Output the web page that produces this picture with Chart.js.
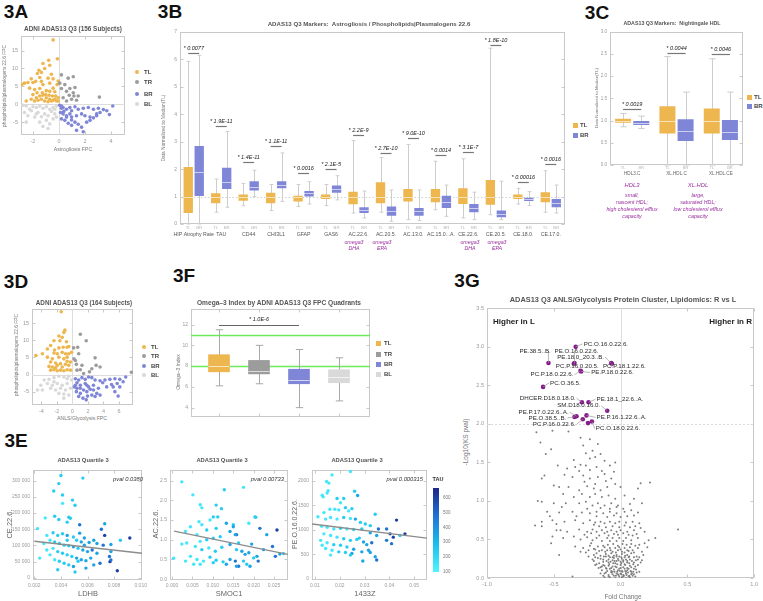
<!DOCTYPE html>
<html>
<head>
<meta charset="utf-8">
<script src="https://cdn.jsdelivr.net/npm/chart.js@4.4.1/dist/chart.umd.min.js"></script>
<style>
  body { margin: 0; background: #fff; width: 763px; height: 601px; overflow: hidden; position: relative;
         font-family: "Liberation Sans", Arial, sans-serif; }
  canvas { position: absolute; }
  .t { position: absolute; white-space: pre; line-height: 1; }
  .m { position: absolute; }
</style>
</head>
<body>
<script>
// ---------- data ----------
// 3A: astrogliosis FPC vs phospholipid FPC, by quadrant
const astroTL = [[-0.45,18.0],[-0.12,12.7],[-1.23,11.4],[-0.79,12.3],[-0.71,10.9],[-1.54,9.5],[-1.10,10.0],[-0.58,8.4],[-2.0,6.1],[-2.65,5.9],[-2.83,5.6],[-2.39,6.1],[-1.79,6.4],[-1.35,6.4],[-1.23,5.5],[-0.71,5.9],[-0.45,4.5],[-0.06,6.5],[-0.14,5.5],[-2.26,4.5],[-1.87,4.1],[-1.48,4.4],[-0.97,3.8],[-0.71,3.6],[-0.32,3.5],[-2.52,0.9],[-2.13,1.4],[-1.74,1.8],[-1.48,2.3],[-1.23,2.5],[-0.97,1.8],[-0.71,1.4],[-0.45,1.1],[-0.19,0.9],[-1.87,0.9],[-1.61,1.1],[-1.35,1.4],[-1.10,0.9],[-0.84,0.7],[-0.58,0.9],[-0.32,1.4],[-0.06,1.8],[-2.0,2.7],[-1.69,3.2],[-1.28,3.2],[-1.02,2.7],[-0.76,2.5],[-0.50,2.3],[-0.25,2.3],[-0.05,0.9],[-0.84,7.3],[-0.45,7.1],[-2.13,7.1],[-1.48,7.5],[-1.66,8.6],[-1.35,8.9]];
const astroTR = [[0.19,8.2],[0.71,7.3],[1.10,7.7],[0.06,5.9],[0.45,5.5],[0.19,4.4],[0.58,3.6],[0.79,2.5],[1.15,2.3],[0.97,1.4],[1.35,1.1],[1.10,3.2],[1.48,2.3],[0.32,1.8],[0.58,0.9],[3.11,2.0],[0.84,4.4],[1.23,4.7]];
const astroBR = [[0.05,-0.3],[0.19,-0.5],[0.32,-0.9],[0.58,-1.4],[0.84,-0.9],[0.97,-1.8],[1.23,-0.7],[1.48,-1.4],[1.87,-1.1],[2.26,-0.9],[2.65,-1.4],[3.03,-1.1],[3.42,-1.5],[3.68,-1.8],[4.14,-0.5],[3.88,-2.9],[3.16,-2.3],[2.90,-2.7],[2.39,-3.6],[2.65,-3.8],[2.0,-3.2],[1.74,-2.7],[1.35,-3.2],[0.97,-3.6],[0.58,-3.2],[0.32,-2.7],[0.12,-2.3],[0.19,-4.1],[0.45,-4.5],[0.71,-5.3],[0.97,-5.9],[1.23,-5.0],[1.48,-5.6],[1.74,-6.4],[1.35,-7.3],[1.87,-7.7],[2.13,-5.0],[2.39,-4.5],[2.90,-3.2],[0.58,-3.6],[0.97,-4.4],[0.19,-1.1],[0.37,-2.0],[0.84,-2.7]];
const astroBL = [[-2.77,-0.3],[-2.52,-0.5],[-2.26,-1.4],[-2.0,-0.7],[-1.74,-0.9],[-1.48,-0.5],[-1.23,-1.1],[-0.97,-0.7],[-0.71,-1.4],[-0.45,-0.9],[-0.19,-0.5],[-2.65,-2.3],[-2.13,-1.8],[-1.61,-2.3],[-1.10,-2.7],[-0.58,-2.0],[-0.32,-2.7],[-2.39,-3.2],[-1.87,-3.6],[-1.35,-3.5],[-0.84,-3.2],[-0.45,-4.1],[-1.48,-5.0],[-0.97,-4.5],[-2.52,-5.0],[-0.71,-5.5],[-0.84,-6.8],[-1.23,-6.2],[-0.19,-3.6],[-1.74,-2.7],[-0.32,-1.4]];
const astroXTicks = [-2, 0, 2, 4];
const fpcYTicks = [-5, 0, 5, 10, 15];

// 3D: ANLS/glycolysis FPC vs phospholipid FPC
const anlsTL = [[-1.44,18.4],[-0.97,13.0],[-1.10,12.3],[-1.74,11.3],[-1.31,10.9],[-2.37,9.9],[-1.61,9.9],[-0.76,9.6],[-2.80,8.5],[-3.22,7.5],[-2.29,7.2],[-1.74,7.8],[-1.19,8.0],[-0.68,8.0],[-0.47,8.2],[-4.70,5.6],[-3.86,6.1],[-2.37,6.3],[-1.95,6.1],[-0.89,6.1],[-0.47,6.1],[-3.22,5.1],[-2.58,4.6],[-1.74,5.1],[-1.10,4.6],[-0.68,3.9],[-0.25,3.7],[-2.80,3.7],[-2.16,3.4],[-1.53,3.2],[-0.89,3.0],[-0.47,2.7],[-2.80,1.3],[-2.37,1.4],[-1.95,1.1],[-1.53,1.3],[-1.10,1.1],[-0.68,1.4],[-0.25,1.3],[-2.58,2.2],[-1.31,2.2],[-2.16,2.0],[-1.95,2.7],[-3.01,2.4],[-0.68,5.1],[-1.31,6.5],[-0.10,6.5]];
const anlsTR = [[1.02,11.8],[1.78,9.9],[0.68,8.0],[0.15,7.8],[0.81,6.1],[0.20,4.6],[0.38,4.1],[1.23,2.7],[0.59,1.3],[2.92,4.9],[3.05,2.7],[2.50,1.7],[3.56,2.2],[2.20,0.8],[1.44,0.3],[1.02,1.4],[7.58,0.7],[0.51,3.0]];
const anlsBR = [[0.38,-1.2],[0.81,-1.6],[1.23,-0.9],[1.65,-1.4],[2.08,-0.7],[2.50,-0.9],[2.92,-1.6],[3.56,-1.8],[4.19,-1.6],[4.83,-1.4],[5.47,-1.2],[6.10,-1.4],[6.86,-0.7],[6.53,-2.1],[5.76,-2.6],[5.04,-2.9],[4.41,-3.6],[3.90,-2.4],[3.35,-4.0],[2.71,-3.1],[2.08,-3.6],[1.65,-2.6],[1.02,-3.1],[0.59,-2.4],[0.25,-3.6],[0.51,-5.0],[1.02,-5.5],[1.44,-4.5],[1.86,-5.0],[2.29,-4.3],[2.71,-4.5],[3.14,-5.5],[3.56,-6.0],[5.47,-5.0],[5.89,-6.3],[0.81,-6.4],[1.36,-6.9],[1.78,-7.4],[1.95,-6.3],[2.50,-6.0],[2.92,-6.4],[0.38,-3.1],[1.02,-4.0],[1.86,-3.1],[0.59,-4.0],[6.10,-3.6],[5.25,-3.6]];
const anlsBL = [[-3.64,-1.6],[-3.01,-1.4],[-2.37,-0.9],[-1.74,-0.5],[-1.10,-0.7],[-0.47,-0.5],[-4.07,-3.1],[-3.22,-2.6],[-2.58,-3.1],[-1.95,-2.6],[-1.31,-3.1],[-0.68,-2.6],[-0.10,-1.6],[-2.80,-4.0],[-2.16,-4.5],[-1.53,-4.0],[-0.89,-4.5],[-0.25,-4.0],[-3.86,-4.5],[-1.74,-5.5],[-1.10,-5.7],[-0.47,-6.0],[-1.10,-6.9],[-4.49,-4.5],[-2.37,-2.1],[-0.68,-1.2]];
const anlsXTicks = [-4, -2, 0, 2, 4, 6];

// 3B: box stats [whisker low, q1, median, q3, whisker high], normalised to TL median
const markerNames = ['HIP Atrophy Rate','TAU','CD44','CHI3L1','GFAP','GAS6','AC.22.6.','AC.20.5.','AC.13.0.','AC.15.0...A.','CE.22.6.','CE.20.5.','CE.18.0.','CE.17.0.'];
const markerTL = [[0.0,0.4,1.0,2.08,5.93],[0.43,0.76,0.97,1.12,1.64],[0.67,0.85,1.0,1.08,1.48],[0.49,0.76,1.0,1.14,1.44],[0.64,0.82,0.97,1.03,1.44],[0.67,0.91,1.0,1.08,1.44],[0.4,0.72,0.97,1.18,3.04],[0.43,0.76,1.0,1.52,2.42],[0.16,0.82,1.0,1.28,2.9],[0.52,0.79,1.0,1.28,2.29],[0.22,0.73,1.0,1.3,2.38],[0.34,0.7,1.0,1.6,6.41],[0.73,0.91,1.0,1.08,1.3],[0.43,0.79,1.0,1.16,1.94]];
const markerBR = [[0.0,1.02,1.9,2.84,6.15],[0.61,1.28,1.54,2.05,3.37],[1.0,1.22,1.34,1.56,1.96],[0.82,1.3,1.42,1.56,2.59],[0.73,1.0,1.12,1.2,1.54],[0.88,1.14,1.26,1.4,1.76],[0.22,0.4,0.52,0.61,1.2],[0.1,0.3,0.46,0.64,1.24],[0.13,0.3,0.46,0.58,1.24],[0.28,0.58,0.79,1.03,1.42],[0.16,0.43,0.58,0.73,1.16],[0.16,0.25,0.37,0.49,1.56],[0.67,0.84,0.9,0.96,1.18],[0.4,0.61,0.76,0.91,1.42]];
const markerSigY = [6.23,3.59,2.26,2.86,1.87,1.99,3.25,2.59,3.13,2.5,2.62,6.53,1.54,2.2];
const markerP = ['0.0077','1.9E-11','1.4E-11','1.1E-11','0.0016','2.1E-5','2.2E-9','2.7E-10','9.0E-10','0.0014','3.1E-7','1.8E-10','0.00016','0.0016'];
const markerYTicks = [0, 1, 2, 3, 4, 5, 6, 7];

// 3C: Nightingale HDL
const hdlNames = ['HDL3.C','XL.HDL.C','XL.HDL.CE'];
const hdlTL = [[0.86,0.95,0.99,1.04,1.16],[0.0,0.71,0.99,1.32,2.44],[0.0,0.71,0.99,1.27,2.39]];
const hdlBR = [[0.82,0.9,0.95,0.99,1.1],[0.0,0.54,0.76,1.03,1.64],[0.0,0.56,0.75,1.01,1.64]];
const hdlSigY = [1.27, 2.52, 2.5];
const hdlP = ['0.0019','0.0044','0.0046'];
const hdlYTicks = [0, 0.5, 1, 1.5, 2, 2.5, 3];

// 3F: omega-3 index by quadrant
const quadNames = ['TL','TR','BR','BL'];
const omegaBoxes = [[6.1,7.45,8.0,9.1,11.5],[6.3,7.25,7.55,8.55,10.0],[4.0,6.3,6.7,7.7,9.6],[4.65,6.4,7.0,7.65,8.8]];
const omegaRef = [8, 11];
const omegaSigY = 12.0;
const omegaP = '1.0E-6';
const omegaYTicks = [4, 6, 8, 10, 12];

// 3E: [x, y, TAU]
const ldhbPts = [[.0040,316000,250],[.00384,291000,250],[.00346,268000,250],[.00565,308000,250],[.00412,256000,250],[.00487,240000,250],[.00412,230000,150],[.00506,224000,250],[.00459,187000,250],[.00471,184000,250],[.00282,185000,150],[.00224,152000,150],[.00353,190000,250],[.00384,180000,250],[.00447,172000,250],[.00541,164000,450],[.00729,167000,350],[.00704,150000,450],[.00729,131000,580],[.00776,103000,350],[.00918,123000,580],[.00847,116000,250],[.00776,81000,350],[.00765,66000,450],[.00694,45000,450],[.00824,22000,580],[.00769,50000,580],[.00776,55000,450],[.0024,61000,150],[.00294,131000,150],[.00341,139000,250],[.00376,131000,250],[.00412,136000,250],[.00447,131000,350],[.00494,126000,250],[.00518,116000,250],[.00553,111000,350],[.00576,101000,350],[.00612,109000,350],[.00647,116000,350],[.00671,106000,350],[.00718,101000,450],[.00318,116000,150],[.00353,111000,250],[.00388,106000,250],[.00424,101000,250],[.00459,99000,250],[.00494,96000,350],[.00529,91000,250],[.00565,86000,350],[.006,81000,350],[.00635,86000,450],[.00671,76000,350],[.00341,91000,150],[.00376,81000,250],[.00412,76000,250],[.00447,71000,250],[.00482,66000,250],[.00518,61000,350],[.00553,56000,350],[.00588,53000,350],[.00624,61000,350],[.00318,71000,150],[.00353,56000,150],[.00388,51000,250],[.00424,45000,250],[.00459,40000,250],[.00494,35000,350],[.00529,51000,250],[.00376,25000,250],[.00506,18000,250],[.00588,30000,350],[.00647,40000,350],[.00294,86000,150],[.00271,106000,150],[.00447,116000,250],[.00541,138000,350],[.00576,123000,350]];
const ldhbFit = [[0.002,113000],[0.0101,75800]];
const smocPts = [[.0024,2.47,150],[.0051,2.14,150],[.0128,2.27,250],[.0069,1.89,150],[.0073,1.81,150],[.0108,1.88,250],[.0121,1.79,250],[.0101,1.58,250],[.0112,1.58,250],[.0093,1.5,150],[.0066,1.46,150],[.0073,1.38,150],[.0045,1.33,150],[.0033,1.21,150],[.0061,1.13,150],[.0085,1.25,250],[.0108,1.29,250],[.0133,1.42,350],[.0150,1.38,250],[.0142,1.21,350],[.0158,1.13,450],[.0024,0.89,150],[.0036,0.92,150],[.0069,0.96,150],[.0085,1.0,250],[.0101,1.04,250],[.0118,1.08,250],[.0057,0.83,150],[.0073,0.75,250],[.0090,0.79,150],[.0106,0.71,250],[.0122,0.81,250],[.0142,0.88,350],[.0158,0.75,250],[.0004,0.53,150],[.0045,0.58,150],[.0061,0.5,150],[.0077,0.46,150],[.0093,0.56,250],[.0108,0.48,250],[.0125,0.44,250],[.0142,0.5,350],[.0069,0.38,150],[.0101,0.42,250],[.0133,0.38,350],[.0155,0.46,450],[.0163,0.33,450],[.0033,0.46,150],[.0053,0.38,150],[.0175,2.33,150],[.0203,1.58,250],[.0205,1.57,250],[.0188,1.42,150],[.0215,1.29,450],[.0232,1.13,350],[.0257,1.25,580],[.0150,1.33,350],[.0155,1.13,350],[.0163,0.92,250],[.0195,0.89,350],[.0224,0.75,350],[.0246,0.83,450],[.0253,0.58,450],[.0264,0.64,350],[.0273,0.65,250],[.0171,0.71,350],[.0179,0.63,350],[.0188,0.67,350],[.0200,0.54,250],[.0208,0.58,350],[.0175,0.46,250],[.0191,0.33,350],[.0211,0.46,450],[.0183,0.38,250],[.0158,0.33,350]];
const smocFit = [[0.0005,1.22],[0.0284,0.63]];
const z1433Pts = [[.0243,2187,150],[.0169,2120,150],[.0147,1987,150],[.0156,1953,150],[.0153,1800,150],[.0149,1753,150],[.0129,1707,150],[.0133,1673,150],[.0189,1640,250],[.0216,1640,250],[.0203,1553,150],[.0260,1787,250],[.0272,1700,350],[.0180,1420,150],[.0196,1407,150],[.0223,1453,250],[.0236,1387,150],[.0249,1433,250],[.0160,1420,150],[.0136,1353,150],[.0112,1267,150],[.0143,1220,150],[.0163,1253,150],[.0189,1220,150],[.0216,1253,250],[.0243,1233,150],[.0263,1220,350],[.0283,1153,250],[.0303,1120,250],[.0323,1087,250],[.0343,1320,250],[.0356,1020,450],[.0389,1020,450],[.0429,1200,580],[.0403,920,580],[.0416,853,580],[.0409,720,450],[.0389,787,450],[.0443,887,250],[.0463,920,580],[.0127,1073,150],[.0149,1053,150],[.0176,1020,150],[.0203,1033,250],[.0229,1020,150],[.0256,1007,250],[.0289,1020,250],[.0323,940,350],[.0349,887,350],[.0136,920,150],[.0163,887,150],[.0189,853,150],[.0216,820,250],[.0243,787,250],[.0269,807,250],[.0296,753,350],[.0329,740,450],[.0123,787,150],[.0149,740,150],[.0176,700,250],[.0203,687,250],[.0229,653,250],[.0256,607,350],[.0289,553,350],[.0323,540,350],[.0343,453,350],[.0349,387,450],[.0143,620,150],[.0169,587,150],[.0196,553,250],[.0223,540,250],[.0249,520,350],[.0293,367,350],[.0129,687,150],[.0163,487,150],[.0243,487,250],[.0279,833,250],[.0309,700,350],[.0316,587,350]];
const z1433Fit = [[0.0088,1120],[0.0552,833]];
const ldhbXTicks = [0.002, 0.004, 0.006, 0.008, 0.010];
const ldhbYTicks = [0, 50000, 100000, 150000, 200000, 250000, 300000];
const smocXTicks = [0, 0.005, 0.010, 0.015, 0.020, 0.025];
const smocYTicks = [0, 0.5, 1.0, 1.5, 2.0, 2.5];
const z1433XTicks = [0.01, 0.02, 0.03, 0.04, 0.05];
const z1433YTicks = [0, 500, 1000, 1500, 2000];
const tauTicks = [100, 200, 300, 400, 500, 600];

// 3G: volcano, [fold change, -log10 p]
const volcanoGray = [[-0.63,1.89],[-0.51,1.91],[-0.39,1.90],[-0.30,1.82],[-0.60,1.76],[-0.23,1.80],[-0.28,1.72],[-0.17,1.74],[-0.52,1.67],[-0.56,1.61],[-0.26,1.62],[-0.21,1.65],[-0.15,1.61],[-0.35,1.53],[-0.23,1.55],[-0.19,1.57],[-0.12,1.52],[-0.04,1.50],[-0.34,1.44],[-0.40,1.42],[-0.31,1.39],[-0.26,1.46],[-0.23,1.40],[-0.18,1.44],[-0.14,1.39],[-0.08,1.46],[-0.57,1.33],[-0.36,1.31],[-0.28,1.33],[-0.23,1.29],[-0.17,1.31],[-0.12,1.35],[-0.07,1.29],[-0.59,1.29],[0.15,1.23],[0.22,1.24],[-0.50,1.20],[-0.46,1.18],[-0.39,1.18],[-0.31,1.14],[-0.25,1.19],[-0.20,1.16],[-0.15,1.14],[-0.10,1.18],[-0.04,1.22],[0.00,1.18],[0.13,1.16],[-0.43,1.09],[-0.35,1.05],[-0.29,1.09],[-0.23,1.05],[-0.19,1.09],[-0.14,1.05],[-0.09,1.07],[-0.04,1.03],[0.03,1.07],[0.10,1.03],[-0.59,0.99],[-0.50,0.97],[-0.41,0.97],[-0.31,0.97],[-0.26,0.99],[-0.21,0.94],[-0.17,0.97],[-0.12,0.94],[-0.07,0.97],[-0.02,0.94],[0.07,0.96],[0.16,0.97],[-0.55,0.86],[-0.46,0.85],[-0.36,0.86],[-0.29,0.85],[-0.23,0.84],[-0.18,0.86],[-0.13,0.84],[-0.08,0.86],[-0.03,0.84],[0.03,0.86],[0.08,0.88],[0.13,0.85],[-0.59,0.73],[-0.51,0.75],[-0.42,0.73],[-0.34,0.75],[-0.28,0.71],[-0.23,0.75],[-0.19,0.72],[-0.15,0.73],[-0.12,0.71],[-0.08,0.73],[-0.04,0.71],[-0.01,0.73],[0.04,0.72],[0.09,0.73],[0.14,0.71],[0.43,0.63],[-0.59,0.67],[-0.48,0.62],[-0.40,0.60],[-0.31,0.63],[-0.25,0.60],[-0.21,0.63],[-0.18,0.60],[-0.14,0.62],[-0.10,0.60],[-0.07,0.62],[-0.03,0.60],[0.00,0.62],[0.05,0.60],[0.10,0.62],[0.18,0.60],[0.26,0.52],[-0.51,0.54],[-0.43,0.52],[-0.35,0.54],[-0.30,0.50],[-0.25,0.53],[-0.21,0.49],[-0.18,0.52],[-0.14,0.48],[-0.10,0.52],[-0.08,0.48],[-0.06,0.52],[-0.03,0.48],[-0.01,0.52],[0.02,0.48],[0.04,0.52],[0.08,0.49],[0.13,0.52],[0.21,0.49],[-0.34,0.41],[-0.28,0.39],[-0.23,0.42],[-0.19,0.37],[-0.17,0.41],[-0.14,0.36],[-0.12,0.40],[-0.10,0.36],[-0.08,0.39],[-0.06,0.34],[-0.04,0.39],[-0.02,0.36],[-0.01,0.40],[0.01,0.34],[0.03,0.39],[0.05,0.36],[0.07,0.40],[0.09,0.36],[0.13,0.39],[0.16,0.34],[-0.46,0.30],[-0.24,0.28],[-0.20,0.30],[-0.17,0.26],[-0.15,0.29],[-0.13,0.24],[-0.11,0.28],[-0.09,0.24],[-0.08,0.27],[-0.06,0.23],[-0.05,0.26],[-0.03,0.22],[-0.02,0.25],[0.00,0.21],[0.01,0.25],[0.02,0.21],[0.04,0.24],[0.05,0.20],[0.07,0.24],[0.10,0.20],[0.13,0.24],[-0.19,0.17],[-0.15,0.14],[-0.13,0.17],[-0.11,0.13],[-0.09,0.16],[-0.08,0.12],[-0.06,0.15],[-0.05,0.11],[-0.03,0.14],[-0.02,0.10],[0.00,0.13],[0.01,0.09],[0.03,0.12],[0.04,0.08],[0.06,0.12],[0.08,0.08],[0.10,0.12],[-0.12,0.06],[-0.09,0.04],[-0.07,0.07],[-0.05,0.03],[-0.03,0.06],[-0.01,0.02],[0.00,0.06],[0.02,0.02],[0.04,0.06],[0.06,0.02],[0.08,0.05],[-0.36,0.02],[-0.11,0.31],[-0.07,0.32],[-0.03,0.30],[0.01,0.31],[0.05,0.30],[0.08,0.32],[-0.09,0.20],[-0.04,0.19],[0.00,0.17],[0.03,0.18],[0.07,0.16],[-0.10,0.09],[-0.06,0.08],[-0.02,0.05],[0.02,0.04],[0.05,0.10],[0.09,0.03],[-0.13,0.21],[-0.16,0.19],[-0.14,0.10],[0.11,0.15],[0.12,0.28],[0.14,0.08],[-0.01,0.28],[0.03,0.27],[-0.05,0.29],[0.06,0.27],[-0.08,0.01],[0.01,0.01],[0.04,0.00],[-0.04,0.00],[0.07,0.01],[-0.12,0.01],[0.10,0.05],[-0.18,0.32],[-0.20,0.22],[0.15,0.20],[0.17,0.30],[-0.22,0.45],[-0.26,0.33],[0.18,0.45],[0.20,0.40],
  [-0.09,0.02],[-0.07,0.09],[-0.06,0.05],[-0.045,0.08],[-0.035,0.03],[-0.025,0.08],[-0.015,0.04],[-0.005,0.09],[0.005,0.05],[0.015,0.08],[0.025,0.03],[0.035,0.09],[0.045,0.04],[0.055,0.07],[0.065,0.03],[0.075,0.09],[0.085,0.06],[0.095,0.08],[-0.11,0.07],[-0.13,0.03],[-0.15,0.06],[0.11,0.02],[0.12,0.07],
  [-0.12,0.16],[-0.105,0.12],[-0.085,0.18],[-0.07,0.13],[-0.055,0.19],[-0.04,0.15],[-0.025,0.18],[-0.01,0.12],[0.005,0.19],[0.02,0.14],[0.035,0.17],[0.05,0.13],[0.065,0.19],[0.08,0.14],[0.095,0.18],[0.115,0.11],[-0.165,0.13],[-0.18,0.18],[0.13,0.17],[-0.14,0.15],
  [-0.15,0.25],[-0.125,0.28],[-0.105,0.22],[-0.09,0.29],[-0.075,0.21],[-0.06,0.27],[-0.045,0.22],[-0.03,0.28],[-0.015,0.23],[0.005,0.27],[0.02,0.23],[0.035,0.29],[0.05,0.22],[0.065,0.28],[0.085,0.22],[0.1,0.27],[0.115,0.23],[-0.19,0.27],[-0.21,0.24],[0.14,0.27],[0.16,0.23],
  [-0.16,0.35],[-0.13,0.42],[-0.115,0.34],[-0.095,0.43],[-0.075,0.36],[-0.055,0.44],[-0.035,0.33],[-0.02,0.42],[0.0,0.37],[0.015,0.44],[0.03,0.33],[0.045,0.43],[0.06,0.35],[0.08,0.44],[0.1,0.33],[0.11,0.42],[-0.2,0.38],[-0.24,0.36],[0.14,0.43],[-0.3,0.34],
  [-0.16,0.55],[-0.12,0.58],[-0.09,0.55],[-0.05,0.57],[-0.02,0.56],[0.02,0.58],[0.06,0.56],[0.09,0.55],[0.12,0.57],[-0.22,0.58],[-0.27,0.56],[-0.11,0.66],[-0.06,0.67],[-0.01,0.66],[0.03,0.68],[0.07,0.66],[-0.16,0.67],[-0.2,0.69],[0.11,0.67],[0.15,0.65],
  [-0.18,0.8],[-0.1,0.79],[-0.05,0.81],[0.0,0.79],[0.05,0.8],[-0.15,0.91],[-0.08,0.9],[-0.03,0.92],[0.02,0.9],[-0.25,0.9],[-0.33,0.8],[-0.44,0.92],[0.1,0.81],[-0.48,0.7],[-0.53,0.8],
  [-0.27,1.25],[-0.19,1.22],[-0.11,1.26],[-0.42,1.34],[-0.47,1.46],[-0.3,1.47],[-0.05,1.38],[-0.62,1.0],[-0.64,0.68],[-0.52,0.45],[-0.45,0.62]];
const hitNames = ['PC.O.16.0.22.6.','PE.38.5..B.','PE.O.16.0.22.6.','PE.18.0_20.3..B.','PC.P.16.0.20.5.','PC.P.18.1.22.6.','PE.P.18.0.22.6.','PC.P.18.0.22.6.','PC.O.36.5.','DHCER.D18.0.18.0.','PE.18.1_22.6..A.','SM.D18.0.16.0.','PE.P.17.0.22.6..A.','PE.O.38.5..B.','PE.P.16.1.22.6..A.','PC.P.16.0.22.6.','PC.O.18.0.22.6.',''];
const hitFC = [-0.336,-0.54,-0.345,-0.07,-0.35,-0.065,-0.295,-0.30,-0.58,-0.29,-0.24,-0.10,-0.33,-0.345,-0.255,-0.283,-0.215,-0.244];
const hitP = [3.00,2.79,2.79,2.79,2.78,2.78,2.68,2.69,2.48,2.28,2.28,2.17,2.10,2.09,2.11,2.06,2.03,2.01];
const volcanoXTicks = [-1, -0.5, 0, 0.5, 1];
const volcanoYTicks = [0, 0.5, 1, 1.5, 2, 2.5, 3, 3.5];

// ---------- styles / layout ----------
const TL_C = '#EDB64F', TR_C = '#9C9C9C', BR_C = '#7F86D8', BL_C = '#D9D9D9';
const PURPLE = '#9A2E9E';
const hitLabelOff = [[8,-3],[-29,-12],[-20,-12],[-54,-6],[-18,3],[-9,3],[10,1],[-50,4],[7,-4],[-62,-4],[8,-3],[-50,-5],[-58,-4],[-46,1],[10,2],[-50,5],[4,7],null];

Chart.defaults.font.family = "'Liberation Sans', Arial, sans-serif";
Chart.defaults.animation = false;
Chart.defaults.plugins.legend.display = false;
Chart.defaults.plugins.tooltip.enabled = false;

const tauStops = [[100,[80,245,255]],[300,[25,190,238]],[450,[30,115,212]],[650,[28,38,138]]];
function tauColor(v) {
  for (let k = 1; k < tauStops.length; k++) {
    if (v <= tauStops[k][0] || k === tauStops.length - 1) {
      const [a, ca] = tauStops[k - 1], [b, cb] = tauStops[k];
      const t = Math.max(0, Math.min(1, (v - a) / (b - a)));
      return 'rgb(' + ca.map((c, j) => Math.round(c + (cb[j] - c) * t)).join(',') + ')';
    }
  }
}

// ---------- plugins ----------
function seg(ctx, x1, y1, x2, y2) { ctx.beginPath(); ctx.moveTo(x1, y1); ctx.lineTo(x2, y2); ctx.stroke(); }

const framePlugin = {
  id: 'frame',
  beforeDatasetsDraw(chart, args, o) {
    const a = chart.chartArea, ctx = chart.ctx;
    ctx.save();
    ctx.strokeStyle = '#c9c9c9'; ctx.lineWidth = 1;
    const l = Math.round(a.left) + 0.5, t = Math.round(a.top) + 0.5, r = Math.round(a.right) - 0.5, b = Math.round(a.bottom) - 0.5;
    ctx.strokeRect(l, t, r - l, b - t);
    if (o.ticks !== false) {
      const xs = chart.scales.x, ys = chart.scales.y;
      if (xs.type === 'linear') xs.ticks.forEach(tk => { const p = Math.round(xs.getPixelForValue(tk.value)) + 0.5; seg(ctx, p, b, p, b - 3); seg(ctx, p, t, p, t + 3); });
      ys.ticks.forEach(tk => { const p = Math.round(ys.getPixelForValue(tk.value)) + 0.5; seg(ctx, l, p, l + 3, p); seg(ctx, r, p, r - 3, p); });
    }
    ctx.restore();
  }
};

const refPlugin = {
  id: 'ref',
  beforeDatasetsDraw(chart, args, o) {
    if (!o.lines) return;
    const {ctx, chartArea: a, scales} = chart;
    ctx.save();
    o.lines.forEach(L => {
      ctx.strokeStyle = L.color; ctx.lineWidth = L.width || 1; ctx.setLineDash(L.dash || []);
      if (L.axis === 'x') { const p = Math.round(scales.x.getPixelForValue(L.v)) + 0.5; seg(ctx, p, a.top, p, a.bottom); }
      else { const p = Math.round(scales.y.getPixelForValue(L.v)) + 0.5; seg(ctx, a.left, p, a.right, p); }
    });
    ctx.restore();
  }
};

const boxPlugin = {
  id: 'boxes',
  beforeDatasetsDraw(chart) {
    const ctx = chart.ctx, ys = chart.scales.y;
    chart.data.datasets.forEach((ds, di) => {
      if (!ds.whisk) return;
      chart.getDatasetMeta(di).data.forEach((el, i) => {
        const w = ds.whisk[i], x = Math.round(el.x) + 0.5, cap = el.width * (ds.capFrac || 0.4) / 2;
        const lo = ys.getPixelForValue(w[0]), hi = ys.getPixelForValue(w[1]);
        ctx.save(); ctx.strokeStyle = ds.whiskColor; ctx.lineWidth = 1;
        seg(ctx, x, lo, x, hi); seg(ctx, x - cap, lo, x + cap, lo); seg(ctx, x - cap, hi, x + cap, hi);
        ctx.restore();
      });
    });
  },
  afterDatasetsDraw(chart) {
    const ctx = chart.ctx, ys = chart.scales.y;
    chart.data.datasets.forEach((ds, di) => {
      if (!ds.med) return;
      chart.getDatasetMeta(di).data.forEach((el, i) => {
        const y = Math.round(ys.getPixelForValue(ds.med[i])) + 0.5;
        ctx.save(); ctx.strokeStyle = ds.medColor; ctx.lineWidth = 1;
        seg(ctx, el.x - el.width / 2, y, el.x + el.width / 2, y);
        ctx.restore();
      });
    });
  }
};

const sigPlugin = {
  id: 'sig',
  afterDatasetsDraw(chart, args, o) {
    if (!o.items) return;
    const ctx = chart.ctx, ys = chart.scales.y;
    o.items.forEach(it => {
      const e1 = chart.getDatasetMeta(it.a[0]).data[it.a[1]], e2 = chart.getDatasetMeta(it.b[0]).data[it.b[1]];
      const y = Math.round(ys.getPixelForValue(it.y)) + 0.5;
      ctx.save();
      ctx.strokeStyle = o.lineColor || '#777'; ctx.lineWidth = o.lineWidth || 1.2;
      seg(ctx, e1.x, y, e2.x, y);
      ctx.fillStyle = '#222'; ctx.textAlign = 'center'; ctx.textBaseline = 'middle';
      ctx.font = 'italic ' + (o.size || 5.5) + "px 'Liberation Sans'";
      ctx.fillText('* ' + it.text, (e1.x + e2.x) / 2, y - (o.gap || 5.5));
      ctx.restore();
    });
  }
};

const subPlugin = {
  id: 'sub',
  afterDraw(chart, args, o) {
    if (!o.offset) return;
    const ctx = chart.ctx, b = chart.chartArea.bottom;
    ctx.save(); ctx.fillStyle = '#b5b5b5'; ctx.textAlign = 'center'; ctx.textBaseline = 'middle';
    ctx.font = (o.size || 4.5) + "px 'Liberation Sans'";
    chart.data.datasets.forEach((ds, di) => {
      chart.getDatasetMeta(di).data.forEach(el => ctx.fillText(ds.sub, el.x, b + o.offset));
    });
    ctx.restore();
  }
};

const tagPlugin = {
  id: 'tags',
  afterDatasetsDraw(chart, args, o) {
    if (!o.names) return;
    const ctx = chart.ctx, meta = chart.getDatasetMeta(o.dataset);
    ctx.save();
    ctx.font = (o.size || 6.3) + "px 'Liberation Sans'";
    ctx.textBaseline = 'middle'; ctx.textAlign = 'left';
    meta.data.forEach((el, i) => {
      const name = o.names[i], off = o.offsets[i];
      if (!name || !off) return;
      const lx = el.x + off[0], ly = el.y + off[1], w = ctx.measureText(name).width;
      ctx.strokeStyle = '#9a9a9a'; ctx.lineWidth = 0.7;
      const ex = lx > el.x ? lx - 1 : (lx + w < el.x ? lx + w + 1 : el.x);
      seg(ctx, el.x, el.y, ex, ly);
      ctx.fillStyle = '#2a2a2a';
      ctx.fillText(name, lx, ly);
    });
    ctx.restore();
  }
};

Chart.register(framePlugin, refPlugin, boxPlugin, sigPlugin, subPlugin, tagPlugin);

// ---------- helpers ----------
function txt(s, x, y, o = {}) {
  const d = document.createElement('div');
  d.className = 't'; d.textContent = s;
  const st = d.style;
  st.left = x + 'px'; st.top = y + 'px';
  st.fontSize = (o.size || 6) + 'px';
  if (o.bold) st.fontWeight = 'bold';
  if (o.italic) st.fontStyle = 'italic';
  st.color = o.color || '#444';
  const ax = o.align === 'l' ? '0' : o.align === 'r' ? '-100%' : '-50%';
  st.transform = 'translate(' + ax + ',-50%)' + (o.rot ? ' rotate(-90deg)' : '');
  document.body.appendChild(d);
}
function mark(x, y, color, round, size) {
  const d = document.createElement('div');
  d.className = 'm';
  const s = size || 4;
  Object.assign(d.style, { left: (x - s / 2) + 'px', top: (y - s / 2) + 'px', width: s + 'px', height: s + 'px',
    background: color, borderRadius: round ? '50%' : '0' });
  document.body.appendChild(d);
}
function lin(min, max, ticks, fmt, opt = {}) {
  return {
    type: 'linear', min, max, offset: false,
    afterBuildTicks: s => { s.ticks = ticks.map(v => ({ value: v })); },
    ticks: { color: opt.color || '#9a9a9a', font: { size: opt.size || 5.5 }, padding: opt.pad == null ? 3 : opt.pad,
             display: opt.display !== false, maxRotation: 0, autoSkip: false, callback: fmt },
    grid: { display: false, drawTicks: false }, border: { display: false }
  };
}
function makeChart(box, plot, cfg) {
  const [bx, by, bw, bh] = box, [l, t, r, b] = plot;
  const c = document.createElement('canvas');
  c.width = bw; c.height = bh;
  Object.assign(c.style, { left: bx + 'px', top: by + 'px', width: bw + 'px', height: bh + 'px' });
  document.body.appendChild(c);
  const yw = l - bx, xh = by + bh - b;
  cfg.options.layout = { autoPadding: false, padding: { top: t - by, right: bx + bw - r, left: 0, bottom: 0 } };
  cfg.options.scales.x.afterFit = s => { s.height = xh; };
  cfg.options.scales.y.afterFit = s => { s.width = yw; };
  cfg.options.responsive = false;
  cfg.options.devicePixelRatio = 1;
  return new Chart(c, cfg);
}
const pts = arr => arr.map(p => ({ x: p[0], y: p[1] }));
const intFmt = v => String(v);
const f1 = v => v.toFixed(1);
function scatterSet(arr, color, r) {
  return { type: 'scatter', data: pts(arr), backgroundColor: color, borderWidth: 0, pointRadius: r || 1.8 };
}

// ---------- 3A ----------
makeChart([0, 30, 128, 122], [21, 34, 125, 135], {
  type: 'scatter',
  data: { datasets: [scatterSet(astroBL, BL_C), scatterSet(astroTR, TR_C), scatterSet(astroBR, BR_C), scatterSet(astroTL, TL_C)] },
  options: {
    scales: { x: lin(-2.92, 5.08, astroXTicks, intFmt), y: lin(-8.6, 19, fpcYTicks, intFmt) },
    plugins: { ref: { lines: [{ axis: 'x', v: 0, color: '#dcdcdc' }, { axis: 'y', v: 0, color: '#dcdcdc' }] } }
  }
});

// ---------- 3D ----------
makeChart([12, 303, 124, 112], [32, 307, 133, 405], {
  type: 'scatter',
  data: { datasets: [scatterSet(anlsBL, BL_C), scatterSet(anlsTR, TR_C), scatterSet(anlsBR, BR_C), scatterSet(anlsTL, TL_C)] },
  options: {
    scales: { x: lin(-5.2, 7.8, anlsXTicks, intFmt), y: lin(-8.9, 19.1, fpcYTicks, intFmt) },
    plugins: { ref: { lines: [{ axis: 'x', v: 0, color: '#dcdcdc' }, { axis: 'y', v: 0, color: '#dcdcdc' }] } }
  }
});

// ---------- 3B ----------
function boxSet(stats, color, sub, extra) {
  return Object.assign({
    type: 'bar', data: stats.map(s => [s[1], s[3]]), backgroundColor: color, borderWidth: 0,
    whisk: stats.map(s => [s[0], s[4]]), med: stats.map(s => s[2]),
    whiskColor: '#cdcdcd', medColor: 'rgba(255,255,255,0.6)', sub
  }, extra || {});
}
makeChart([160, 26, 408, 218], [180, 31, 565, 224], {
  type: 'bar',
  data: { labels: markerNames, datasets: [
    boxSet(markerTL, TL_C, 'TL', { categoryPercentage: 0.8, barPercentage: 0.85 }),
    boxSet(markerBR, BR_C, 'BR', { categoryPercentage: 0.8, barPercentage: 0.85 })
  ] },
  options: {
    scales: {
      x: { type: 'category', offset: true, grid: { display: false, drawTicks: false }, border: { display: false },
           ticks: { color: '#555', font: { size: 5.2 }, padding: 7, maxRotation: 0, autoSkip: false } },
      y: lin(0, 7, markerYTicks, intFmt, { size: 5 })
    },
    plugins: {
      ref: { lines: [{ axis: 'y', v: 1, color: '#d0d0d0', dash: [1.5, 2] }] },
      sig: { items: markerNames.map((n, i) => ({ a: [0, i], b: [1, i], y: markerSigY[i], text: markerP[i] })), size: 5.5 },
      sub: { offset: 4, size: 4.3 }
    }
  }
});

// ---------- 3C ----------
makeChart([592, 26, 154, 152], [610, 31, 743, 165], {
  type: 'bar',
  data: { labels: hdlNames, datasets: [
    boxSet(hdlTL, TL_C, 'TL', { categoryPercentage: 0.82, barPercentage: 0.88 }),
    boxSet(hdlBR, BR_C, 'BR', { categoryPercentage: 0.82, barPercentage: 0.88 })
  ] },
  options: {
    scales: {
      x: { type: 'category', offset: true, grid: { display: false, drawTicks: false }, border: { display: false },
           ticks: { color: '#666', font: { size: 4.6 }, padding: 6, maxRotation: 0, autoSkip: false } },
      y: lin(0, 3, hdlYTicks, f1, { size: 4.5 })
    },
    plugins: {
      sig: { items: hdlNames.map((n, i) => ({ a: [0, i], b: [1, i], y: hdlSigY[i], text: hdlP[i] })), size: 5.5 },
      sub: { offset: 3, size: 4 }
    }
  }
});

// ---------- 3F ----------
makeChart([172, 303, 201, 120], [191, 307, 370, 419], {
  type: 'bar',
  data: { datasets: [{
    data: omegaBoxes.map((s, i) => ({ x: i + 1, y: [s[1], s[3]] })),
    backgroundColor: [TL_C, TR_C, BR_C, BL_C], borderWidth: 0, barThickness: 21,
    whisk: omegaBoxes.map(s => [s[0], s[4]]), med: omegaBoxes.map(s => s[2]),
    whiskColor: '#a8a8a8', medColor: 'rgba(255,255,255,0.65)', capFrac: 0.35
  }] },
  options: {
    scales: { x: lin(0.3, 4.775, [1, 2, 3, 4], intFmt, { display: false }), y: lin(3.1, 13.5, omegaYTicks, intFmt, { size: 5 }) },
    plugins: {
      frame: { ticks: true },
      ref: { lines: omegaRef.map(v => ({ axis: 'y', v, color: '#6BEA5A', width: 1.5 })) },
      sig: { items: [{ a: [0, 0], b: [0, 2], y: omegaSigY, text: omegaP }], lineColor: '#666', size: 5.5, gap: 6 }
    }
  }
});

// ---------- 3E ----------
function tauSet(arr) {
  return { type: 'scatter', order: 2, data: pts(arr), backgroundColor: arr.map(p => tauColor(p[2])), borderWidth: 0, pointRadius: 1.7 };
}
function fitSet(fit) {
  return { type: 'line', order: 1, data: pts(fit), borderColor: '#8c8c8c', borderWidth: 1.4, pointRadius: 0 };
}
const thou = v => v === 0 ? '0' : (v / 1000) + ' 000';
makeChart([0, 464, 150, 128], [33, 468, 147, 580], {
  type: 'scatter',
  data: { datasets: [tauSet(ldhbPts), fitSet(ldhbFit)] },
  options: { scales: { x: lin(0.0019, 0.0101, ldhbXTicks, v => v.toFixed(3), { size: 5 }), y: lin(-6700, 333000, ldhbYTicks, thou, { size: 5 }) }, plugins: {} }
});
makeChart([150, 464, 141, 128], [170, 468, 288, 580], {
  type: 'scatter',
  data: { datasets: [tauSet(smocPts), fitSet(smocFit)] },
  options: { scales: { x: lin(-0.0005, 0.0284, smocXTicks, v => v.toFixed(3), { size: 5 }), y: lin(-0.02, 2.77, smocYTicks, f1, { size: 5 }) }, plugins: {} }
});
makeChart([292, 464, 138, 128], [312, 468, 427, 580], {
  type: 'scatter',
  data: { datasets: [tauSet(z1433Pts), fitSet(z1433Fit)] },
  options: { scales: { x: lin(0.0088, 0.0552, z1433XTicks, v => v.toFixed(2), { size: 5 }), y: lin(-20, 2220, z1433YTicks, intFmt, { size: 5 }) }, plugins: {} }
});

// ---------- 3G ----------
makeChart([470, 302, 291, 292], [487, 306, 758, 578], {
  type: 'scatter',
  data: { datasets: [
    { data: pts(volcanoGray), backgroundColor: '#7e7e7e', borderWidth: 0, pointRadius: 1 },
    { data: hitFC.map((x, i) => ({ x, y: hitP[i] })), backgroundColor: '#861C8C', borderWidth: 0, pointRadius: 2.3 }
  ] },
  options: {
    scales: { x: lin(-1, 1, volcanoXTicks, f1, { size: 5.5 }), y: lin(0, 3.5, volcanoYTicks, f1, { size: 5.5 }) },
    plugins: {
      ref: { lines: [{ axis: 'x', v: 0, color: '#dedede' }, { axis: 'y', v: 2, color: '#dcdcdc', dash: [2, 2] }] },
      tags: { dataset: 1, names: hitNames, offsets: hitLabelOff, size: 6.2 }
    }
  }
});

// ---------- text, legends, annotations ----------
[['3A', 16, 11], ['3B', 170, 11], ['3C', 597, 12], ['3D', 16, 281], ['3F', 184, 275], ['3G', 467, 280], ['3E', 16, 440]]
  .forEach(([s, x, y]) => txt(s, x, y, { size: 19, bold: true, color: '#111' }));

const TITLE = '#555';
txt('ADNI ADAS13 Q3 (156 Subjects)', 73, 29, { size: 6.4, bold: true, color: TITLE });
txt('ADAS13 Q3 Markers:  Astrogliosis / Phospholipids|Plasmalogens 22.6', 369, 24, { size: 6.1, bold: true, color: TITLE });
txt('ADAS13 Q3 Markers:  Nightingale HDL', 672, 24, { size: 5.3, bold: true, color: TITLE });
txt('ADNI ADAS13 Q3 (164 Subjects)', 84, 303, { size: 6.3, bold: true, color: TITLE });
txt('Omega\u20133 Index by ADNI ADAS13 Q3 FPC Quadrants', 279, 303, { size: 6.6, bold: true, color: TITLE });
[83, 222, 357].forEach(x => txt('ADAS13 Quartile 3', x, 461, { size: 5.8, bold: true, color: TITLE }));
txt('ADAS13 Q3 ANLS/Glycolysis Protein Cluster, Lipidomics: R vs L', 623, 300, { size: 7.4, bold: true, color: TITLE });

const AX = '#777';
txt('Astrogliosis FPC', 73, 150, { size: 5.2, color: AX });
txt('phospholipids|plasmalogens 22.6 FPC', 5, 86, { size: 4.8, color: AX, rot: true });
txt('Data Normalized to Median(TL)', 164, 128, { size: 4.8, color: AX, rot: true });
txt('Data Normalized to Median(TL)', 597, 98, { size: 4.3, color: AX, rot: true });
txt('ANLS/Glycolysis FPC', 82, 419, { size: 5.2, color: AX });
txt('phospholipids|plasmalogens 22.6 FPC', 17, 355, { size: 4.8, color: AX, rot: true });
txt('Omega\u20133 Index', 178, 372, { size: 5, color: AX, rot: true });
txt('LDHB', 88, 594, { size: 7.5, color: '#666' });
txt('SMOC1', 229, 594, { size: 7.5, color: '#666' });
txt('1433Z', 365, 594, { size: 7.5, color: '#666' });
txt('CE.22.6.', 10, 524, { size: 7.5, color: '#666', rot: true });
txt('AC.22.6.', 156, 524, { size: 7.5, color: '#666', rot: true });
txt('PE.O.16.0.22.6.', 294, 524, { size: 7, color: '#666', rot: true });
txt('pval 0.0380', 143, 480, { size: 5.8, italic: true, color: '#333', align: 'r' });
txt('pval 0.00733', 284, 480, { size: 5.8, italic: true, color: '#333', align: 'r' });
txt('pval 0.000315', 423, 480, { size: 5.8, italic: true, color: '#333', align: 'r' });
txt('Fold Change', 623, 597, { size: 6.5, color: AX });
txt('-Log10(KS pval)', 466, 442, { size: 6.5, color: AX, rot: true });
txt('Higher in L', 493, 322, { size: 8, bold: true, color: '#222', align: 'l' });
txt('Higher in R', 752, 322, { size: 8, bold: true, color: '#222', align: 'r' });

// TAU colour bar
const bar = document.createElement('div');
Object.assign(bar.style, { position: 'absolute', left: '433px', top: '488px', width: '6px', height: '84px',
  background: 'linear-gradient(to top,' + tauStops.map(s => tauColor(s[0])).join(',') + ')' });
document.body.appendChild(bar);
txt('TAU', 438, 480, { size: 5.5, bold: true, color: '#333' });
tauTicks.forEach(v => txt(String(v), 443, 572 - (v - 100) * 0.148, { size: 4.5, color: '#777', align: 'l' }));

// legends
const quadColors = [TL_C, TR_C, BR_C, BL_C];
const LEG = '#444';
[72, 82, 94, 104].forEach((y, i) => { mark(137, y, quadColors[i], true, 4); txt(quadNames[i], 144, y, { size: 6, bold: true, color: LEG, align: 'l' }); });
[347, 356, 366, 375].forEach((y, i) => { mark(144, y, quadColors[i], true, 4); txt(quadNames[i], 151, y, { size: 6, bold: true, color: LEG, align: 'l' }); });
[343, 354, 364, 374].forEach((y, i) => { mark(378, y, quadColors[i], false, 5); txt(quadNames[i], 384, y, { size: 6, bold: true, color: LEG, align: 'l' }); });
[[125, 0], [135, 2]].forEach(([y, i]) => { mark(575, y, quadColors[i], false, 5); txt(quadNames[i], 580, y, { size: 6, bold: true, color: LEG, align: 'l' }); });
[[97, 0], [106, 2]].forEach(([y, i]) => { mark(749, y, quadColors[i], false, 5); txt(quadNames[i], 754, y, { size: 6, bold: true, color: LEG, align: 'l' }); });

// purple annotations
const ann = { size: 5.3, italic: true, color: PURPLE };
[[354, 'DHA'], [382, 'EPA'], [470, 'DHA'], [497, 'EPA']].forEach(([x, s]) => { txt('omega3', x, 243, ann); txt(s, x, 249, ann); });
txt('HDL3', 632, 186, { size: 5.8, italic: true, color: PURPLE });
['small,', 'nascent HDL;', 'high cholesterol efflux', 'capacity'].forEach((s, i) => txt(s, 632, 196 + i * 7, ann));
txt('XL.HDL', 698, 186, { size: 5.8, italic: true, color: PURPLE });
['large,', 'saturated HDL;', 'low cholesterol efflux', 'capacity'].forEach((s, i) => txt(s, 698, 196 + i * 7, ann));
</script>
</body>
</html>
